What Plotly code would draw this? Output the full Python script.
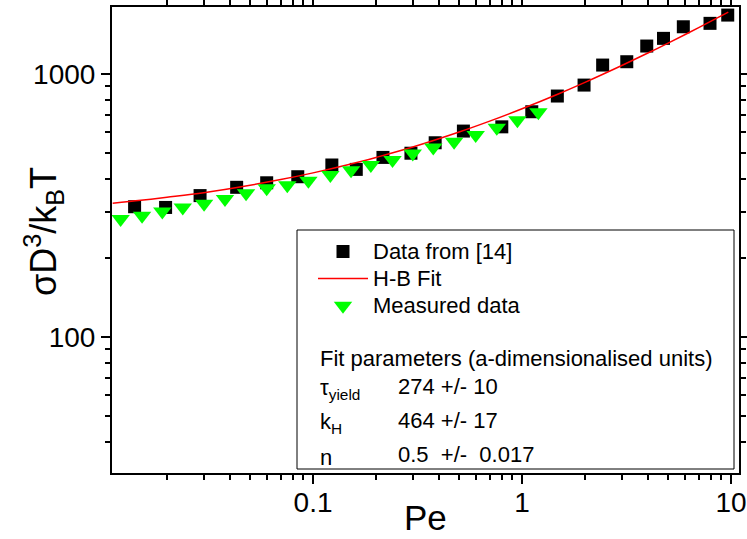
import plotly.graph_objects as go

# ---- data ----
pe_ref = [0.0140, 0.0197, 0.0288, 0.0431, 0.0600, 0.0845, 0.123, 0.161, 0.216, 0.294,
          0.384, 0.524, 0.800, 1.113, 1.475, 1.98, 2.43, 3.17, 3.95, 4.75, 5.91, 7.93, 9.64]
sigma_ref = [313, 311, 345, 371, 386, 407, 451, 434, 482, 500,
             548, 607, 630, 719, 825, 908, 1082, 1114, 1278, 1367, 1513, 1559, 1676]

pe_meas = [0.0120, 0.0152, 0.0190, 0.0238, 0.0301, 0.0379, 0.0478, 0.0600, 0.0753, 0.0950,
           0.121, 0.152, 0.189, 0.240, 0.300, 0.376, 0.473, 0.600, 0.757, 0.950, 1.197]
sigma_meas = [281, 289, 300, 311, 321, 335, 352, 368, 378, 393,
              413, 431, 451, 471, 499, 526, 553, 586, 625, 668, 715]

pe_fit = [0.011, 0.015, 0.02, 0.03, 0.05, 0.07, 0.1, 0.15, 0.2, 0.3, 0.5, 0.7,
          1.0, 1.5, 2.0, 3.0, 4.0, 5.0, 7.0, 9.7]
sigma_fit = [323, 331, 340, 354, 378, 397, 421, 454, 482, 528, 602, 662,
             738, 842, 930, 1078, 1202, 1311, 1502, 1719]

x_ticks = [0.1, 1, 10]
x_ticklabels = ["0.1", "1", "10"]
y_ticks = [100, 1000]
y_ticklabels = ["100", "1000"]

series_names = ["Data from [14]", "H-B Fit", "Measured data"]
fit_title = "Fit parameters (a-dimensionalised units)"
fit_rows = [("τ<sub>yield</sub>", "274 +/- 10"),
            ("k<sub>H</sub>", "464 +/- 17"),
            ("n", "0.5  +/-  0.017")]

# ---- geometry helpers ----
W, H = 747, 539
L, R, T, B = 112, 739, 7, 473


def px(xp):
    return (xp - L) / (R - L)


def py(yp):
    return (B - yp) / (B - T)


FONT = "Liberation Sans, Arial, sans-serif"
TXT = 22


def big(s):
    return f'<span style="font-size:{TXT}px">{s}</span>'


fig = go.Figure()
fig.add_trace(go.Scatter(x=pe_ref, y=sigma_ref, mode="markers", name=big(series_names[0]),
                         marker=dict(symbol="square", size=13, color="black")))
fig.add_trace(go.Scatter(x=pe_fit, y=sigma_fit, mode="lines", name=big(series_names[1]),
                         line=dict(color="red", width=1.5, shape="spline")))
fig.add_trace(go.Scatter(x=pe_meas, y=sigma_meas, mode="markers", name=big(series_names[2]),
                         marker=dict(symbol="triangle-down", size=16, color="#00ff00")))

minor_x = [m * 10.0 ** e for e in (-2, -1, 0) for m in range(2, 10)]
minor_y = [m * 10.0 ** e for e in (1, 2, 3) for m in range(2, 10)]

axis_common = dict(type="log", showgrid=False, zeroline=False, showline=True,
                   linecolor="black", linewidth=2, mirror="ticks",
                   ticks="outside", ticklen=9, tickwidth=2, tickcolor="black",
                   tickfont=dict(family=FONT, size=28, color="black"))

fig.update_xaxes(range=[-1.962, 1.038], tickmode="array", tickvals=x_ticks,
                 ticktext=x_ticklabels, ticklabelstandoff=-6,
                 minor=dict(tickmode="array", tickvals=minor_x, ticks="outside",
                            ticklen=5, tickwidth=1.5, tickcolor="black", showgrid=False),
                 **axis_common)
fig.update_yaxes(range=[1.483, 3.255], tickmode="array", tickvals=y_ticks,
                 ticktext=y_ticklabels,
                 minor=dict(tickmode="array", tickvals=minor_y, ticks="outside",
                            ticklen=5, tickwidth=1.5, tickcolor="black", showgrid=False),
                 **axis_common)

annotations = [
    dict(text="Pe", x=px(425.5), y=py(538), xref="paper", yref="paper",
         xanchor="center", yanchor="bottom", showarrow=False, borderpad=0,
         font=dict(family=FONT, size=35, color="black")),
    dict(text="σD<sup>3</sup>/k<sub>B</sub>T", x=px(43), y=py(232), xref="paper", yref="paper",
         xanchor="center", yanchor="middle", showarrow=False, textangle=-90,
         font=dict(family=FONT, size=36, color="black")),
    dict(text=fit_title, x=px(318), y=py(358),
         xref="paper", yref="paper", xanchor="left", yanchor="middle", showarrow=False,
         font=dict(family=FONT, size=TXT, color="black")),
]
row_y = [386, 420, 454]
for (lab, val), yy in zip(fit_rows, row_y):
    annotations.append(dict(text=lab, x=px(318), y=py(yy + 3), xref="paper", yref="paper",
                            xanchor="left", yanchor="middle", showarrow=False,
                            font=dict(family=FONT, size=TXT, color="black")))
    annotations.append(dict(text=val, x=px(396), y=py(yy), xref="paper", yref="paper",
                            xanchor="left", yanchor="middle", showarrow=False,
                            font=dict(family=FONT, size=TXT, color="black")))

fig.update_layout(
    width=W, height=H,
    margin=dict(l=L, r=W - R, t=T, b=H - B, autoexpand=False),
    paper_bgcolor="white", plot_bgcolor="white",
    showlegend=True,
    legend=dict(x=px(313), y=py(233), xanchor="left", yanchor="top",
                bgcolor="rgba(0,0,0,0)", borderwidth=0, itemwidth=50,
                font=dict(family=FONT, size=18.5, color="black"),
                tracegroupgap=0),
    shapes=[dict(type="rect", xref="paper", yref="paper",
                 x0=px(297), x1=px(734), y0=py(469), y1=py(230),
                 line=dict(color="black", width=1), layer="above")],
    annotations=annotations,
)

fig.write_html("out.html")
